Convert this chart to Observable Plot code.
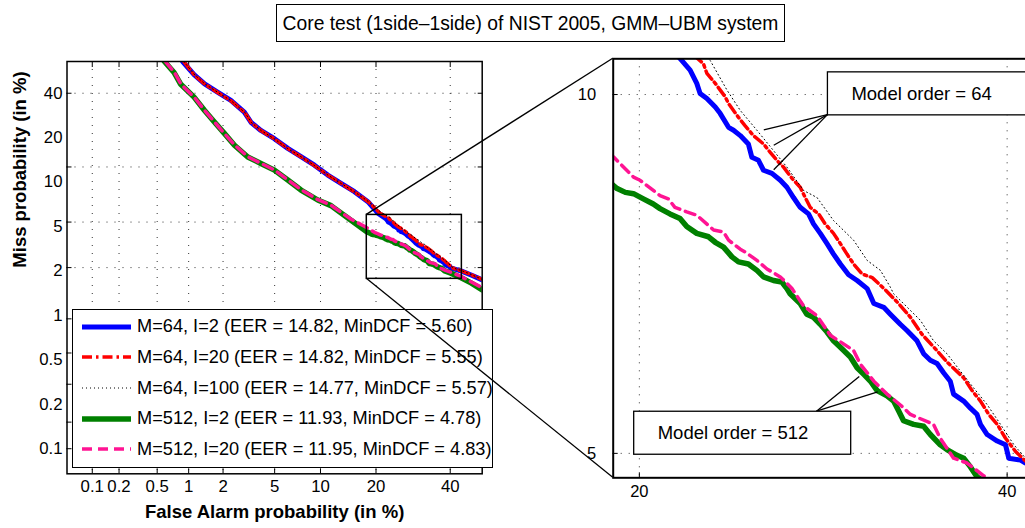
<!DOCTYPE html>
<html>
<head>
<meta charset="utf-8">
<script src="https://cdn.jsdelivr.net/npm/d3@7"></script>
<script src="https://cdn.jsdelivr.net/npm/@observablehq/plot@0.6"></script>
<style>
  html, body { margin: 0; padding: 0; background: #fff; overflow: hidden; }
  #fig { position: relative; width: 1025px; height: 528px; overflow: hidden;
         font-family: "Liberation Sans", Arial, Helvetica, sans-serif; color: #000; }
  #title { position: absolute; left: 276px; top: 4px; width: 507px; height: 36px;
           border: 1px solid #000; background: #fff; font-size: 19.3px; line-height: 37px;
           text-align: center; white-space: nowrap; }
  .panel { position: absolute; top: 0; }
  #legend { position: absolute; left: 72px; top: 309px; width: 419px; height: 157px;
            border: 1px solid #000; background: #fff; }
  .row { position: absolute; left: 0; height: 30px; display: flex; align-items: center;
         font-size: 18.2px; white-space: nowrap; }
  .row svg { margin-left: 9px; margin-right: 6px; }
</style>
</head>
<body>
<div id="fig">
  <div id="title">Core test (1side&#8211;1side) of NIST 2005, GMM&#8211;UBM system</div>
</div>
<script>
// ---------------------------------------------------------------------------
// DET curves, [false alarm %, miss %] pairs
// ---------------------------------------------------------------------------
const detM64I2 = [
  [0.88,50],[1.12,45.8],[1.39,42.9],[1.81,40.3],[2.32,37.8],[2.97,34.3],[3.34,31.4],[3.97,29.1],
  [4.98,26.9],[6.17,24.4],[7.55,22.4],[9.18,20.4],[11.05,18.25],[13.16,16.56],[15.57,14.94],
  [18.25,13.17],[20.43,11.31],[21.95,10.62],[22.35,10.44],[22.67,10.20],[22.83,10.02],[23.16,9.93],
  [23.57,9.78],[23.81,9.67],[24.23,9.43],[24.48,9.38],[24.82,9.29],[25.23,9.15],[25.41,8.93],
  [25.75,8.88],[26.01,8.72],[26.45,8.67],[26.89,8.56],[27.24,8.45],[27.59,8.29],[27.95,8.14],
  [28.40,8.04],[28.67,7.89],[29.04,7.75],[29.41,7.60],[29.77,7.45],[30.15,7.31],[30.61,7.16],
  [31.09,7.08],[31.66,6.97],[32.04,6.77],[32.61,6.72],[32.99,6.63],[33.57,6.50],[33.96,6.42],
  [34.55,6.29],[34.94,6.13],[35.34,6.05],[35.74,6.01],[36.13,5.90],[36.53,5.80],[36.73,5.65],
  [37.34,5.57],[37.75,5.49],[38.15,5.42],[38.36,5.31],[38.77,5.20],[39.39,5.13],[39.90,5.09],
  [40.10,4.95],[40.83,4.93],[41.14,4.90],[43.5,4.72],[46.5,4.42],[50,4.07]
];
const detM64I20 = [
  [0.90,50],[1.13,45.6],[1.40,42.8],[1.83,40.1],[2.34,37.6],[2.99,34.2],[3.36,31.3],[4.00,29.0],
  [5.00,26.8],[6.20,24.3],[7.58,22.3],[9.20,20.3],[11.08,18.2],[13.20,16.5],[15.60,14.9],
  [18.40,13.1],[20.90,11.3],[22.99,10.56],[23.16,10.38],[23.57,10.20],[24.06,9.96],[24.23,9.84],
  [24.73,9.60],[25.06,9.46],[25.49,9.29],[26.01,9.15],[26.36,9.01],[26.71,8.88],[27.06,8.77],
  [27.51,8.59],[27.95,8.45],[28.22,8.29],[28.49,8.14],[28.95,8.04],[29.31,7.89],[29.77,7.75],
  [30.15,7.60],[30.52,7.45],[30.89,7.31],[31.37,7.17],[31.95,7.12],[32.71,6.95],[33.47,6.77],
  [34.16,6.59],[34.85,6.37],[35.64,6.19],[36.33,6.03],[37.34,5.84],[37.85,5.69],[38.36,5.57],
  [38.87,5.42],[39.39,5.31],[39.90,5.16],[40.52,5.02],[41.14,4.92],[43.5,4.74],[46.5,4.45],[50,4.10]
];
const detM64I100 = [
  [0.90,50],[1.14,45.7],[1.41,42.8],[1.84,40.1],[2.35,37.6],[3.00,34.2],[3.37,31.3],[4.01,29.0],
  [5.00,26.8],[6.20,24.3],[7.60,22.3],[9.20,20.3],[11.10,18.2],[13.20,16.5],[15.60,14.9],
  [18.50,13.1],[21.20,11.4],[23.32,10.62],[24.15,10.08],[24.82,9.72],[25.67,9.38],[26.53,9.04],
  [27.24,8.77],[28.13,8.40],[28.86,8.29],[29.77,7.94],[30.89,7.65],[31.66,7.36],[32.42,7.22],
  [32.99,6.99],[33.18,6.90],[34.75,6.55],[35.53,6.29],[36.33,6.13],[37.14,5.92],[37.95,5.72],
  [38.77,5.53],[39.59,5.31],[40.42,5.09],[41.14,4.95],[43.5,4.76],[46.5,4.46],[50,4.10]
];
const detM512I2 = [
  [0.59,50],[0.73,46.5],[0.84,42.9],[1.12,38.8],[1.39,34.8],[1.69,31.45],[2.05,28.3],[2.48,25.2],
  [3.16,22.3],[3.97,20.8],[4.98,19.3],[6.17,17.2],[7.55,15.25],[9.63,13.45],[11.54,12.5],
  [12.07,12.09],[14.93,10.25],[18.02,8.70],[18.85,8.48],[19.02,8.43],[19.38,8.37],[19.74,8.35],
  [20.18,8.27],[20.63,8.19],[20.94,8.12],[21.40,8.04],[21.87,7.97],[22.19,7.85],[22.67,7.75],
  [23.24,7.70],[23.57,7.62],[23.98,7.55],[24.40,7.41],[24.73,7.34],[25.23,7.31],[25.67,7.22],
  [26.01,7.13],[26.53,7.08],[26.97,7.06],[27.24,6.97],[27.41,6.90],[27.95,6.77],[28.31,6.63],
  [28.67,6.59],[29.04,6.50],[29.41,6.40],[29.77,6.29],[30.15,6.21],[30.71,6.09],[31.09,5.96],
  [31.47,5.88],[31.85,5.80],[32.23,5.69],[32.80,5.63],[33.18,5.57],[33.47,5.46],[33.76,5.35],
  [34.35,5.31],[34.94,5.29],[35.34,5.20],[35.93,5.09],[36.33,5.04],[36.93,4.98],[37.34,4.95],
  [37.75,4.86],[38.15,4.76],[40.0,4.58],[43.4,4.22],[46.6,3.85],[50,3.42]
];
const detM512I20 = [
  [0.60,50],[0.74,46.4],[0.85,42.8],[1.13,38.7],[1.40,34.7],[1.70,31.4],[2.06,28.2],[2.50,25.2],
  [3.18,22.3],[4.00,20.8],[5.00,19.3],[6.20,17.2],[7.58,15.3],[9.66,13.5],[11.56,12.55],
  [12.10,12.15],[14.95,10.4],[17.60,9.4],[18.88,8.93],[19.09,8.85],[19.74,8.61],[20.03,8.56],
  [20.94,8.32],[21.32,8.27],[21.63,8.14],[22.19,8.07],[22.67,8.02],[23.49,7.80],[23.98,7.77],
  [24.23,7.65],[24.82,7.52],[25.06,7.48],[25.67,7.36],[26.19,7.24],[26.89,7.13],[27.24,7.04],
  [27.51,6.97],[28.13,6.74],[28.86,6.61],[29.59,6.36],[30.89,6.17],[31.28,6.00],[32.04,5.80],
  [32.80,5.65],[33.67,5.51],[34.16,5.42],[35.53,5.31],[35.93,5.16],[36.73,4.95],[37.54,4.90],
  [38.56,4.77],[40.2,4.62],[43.4,4.30],[46.6,3.92],[50,3.55]
];

// Legend entries
const systemNames = ["M=64, I=2", "M=64, I=20", "M=64, I=100", "M=512, I=2", "M=512, I=20"];
const eerValues = [14.82, 14.82, 14.77, 11.93, 11.95];
const minDcfValues = [5.60, 5.55, 5.57, 4.78, 4.83];
const detCurves = [detM64I2, detM64I20, detM64I100, detM512I2, detM512I20];

// Axis ticks (in %)
const mainTicks = [0.1, 0.2, 0.5, 1, 2, 5, 10, 20, 40];
const mainRange = [0.05, 50];
const zoomFA = [18.02, 43.6];      // region outlined on the main plot
const zoomMiss = [4.14, 11.04];
const insetFA = [18.85, 43.6];     // domain of the magnified plot
const insetMiss = [4.75, 10.65];
const insetFATicks = [20, 40];
const insetMissTicks = [5, 10];

// Callouts on the magnified plot: box corner, leader start, leader targets (%)
const calloutLabels = ["Model order = 64", "Model order = 512"];
const calloutBoxes = [[29.46, 10.40], [19.77, 5.45]];
const calloutFrom = [[29.46, 9.64], [28.86, 5.45]];
const calloutTargets = [
  [[26.05, 9.38], [26.57, 9.12], [26.57, 8.72]],
  [[31.24, 5.85], [32.29, 5.67]]
];

// ---------------------------------------------------------------------------
// Line styles
// ---------------------------------------------------------------------------
const lineStyles = [
  {stroke: "#0000ff", strokeWidth: 5, strokeDasharray: null},
  {stroke: "#ff0000", strokeWidth: 3.5, strokeDasharray: "10,4,2.5,4"},
  {stroke: "#000000", strokeWidth: 1, strokeDasharray: "1,3"},
  {stroke: "#008000", strokeWidth: 5.5, strokeDasharray: null},
  {stroke: "#ff1493", strokeWidth: 3.5, strokeDasharray: "10,6"}
];

// Normal deviate (inverse standard normal CDF), Acklam's approximation
function probit(p) {
  const a = [-3.969683028665376e+01, 2.209460984245205e+02, -2.759285104469687e+02,
             1.383577518672690e+02, -3.066479806614716e+01, 2.506628277459239e+00];
  const b = [-5.447609879822406e+01, 1.615858368580409e+02, -1.556989798598866e+02,
             6.680131188771972e+01, -1.328068155288572e+01];
  const c = [-7.784894002430293e-03, -3.223964580411365e-01, -2.400758277161838e+00,
             -2.549671010029437e+00, 4.374664141464968e+00, 2.938163982698783e+00];
  const d = [7.784695709041462e-03, 3.224671290700398e-01, 2.445134137142996e+00,
             3.754408661907416e+00];
  const pl = 0.02425;
  if (p < pl) {
    const q = Math.sqrt(-2 * Math.log(p));
    return (((((c[0]*q+c[1])*q+c[2])*q+c[3])*q+c[4])*q+c[5]) / ((((d[0]*q+d[1])*q+d[2])*q+d[3])*q+1);
  }
  if (p <= 1 - pl) {
    const q = p - 0.5, r = q * q;
    return (((((a[0]*r+a[1])*r+a[2])*r+a[3])*r+a[4])*r+a[5])*q / (((((b[0]*r+b[1])*r+b[2])*r+b[3])*r+b[4])*r+1);
  }
  const q = Math.sqrt(-2 * Math.log(1 - p));
  return -(((((c[0]*q+c[1])*q+c[2])*q+c[3])*q+c[4])*q+c[5]) / ((((d[0]*q+d[1])*q+d[2])*q+d[3])*q+1);
}
const z = v => probit(v / 100);
const fmt = v => String(v);

const font = "Liberation Sans, Arial, Helvetica, sans-serif";
const grid = {stroke: "#333", strokeWidth: 1, strokeDasharray: "1,7"};
const tickMark = {tickSize: -5, tickFormat: () => "", label: null, strokeWidth: 1};

function curveMarks() {
  return detCurves.map((pts, i) => Plot.line(pts, {
    x: d => z(d[0]), y: d => z(d[1]), clip: true, ...lineStyles[i]
  }));
}

// ---------------------------------------------------------------------------
// Main DET plot
// ---------------------------------------------------------------------------
const yLabelOrder = [...mainTicks].reverse();
const main = Plot.plot({
  width: 500, height: 528,
  marginLeft: 66.5, marginRight: 18.3, marginTop: 61, marginBottom: 54.7,
  x: {domain: mainRange.map(z), axis: null},
  y: {domain: mainRange.map(z), axis: null},
  style: {fontFamily: font, background: "transparent", color: "black", overflow: "visible"},
  marks: [
    Plot.ruleX(mainTicks, {x: z, ...grid}),
    Plot.ruleY(mainTicks, {y: z, ...grid}),
    Plot.axisX(mainTicks.map(z), {anchor: "bottom", ...tickMark}),
    Plot.axisX(mainTicks.map(z), {anchor: "top", ...tickMark}),
    Plot.axisY(mainTicks.map(z), {anchor: "left", ...tickMark}),
    Plot.axisY(mainTicks.map(z), {anchor: "right", ...tickMark}),
    ...curveMarks(),
    Plot.rect([0], {x1: () => z(zoomFA[0]), x2: () => z(zoomFA[1]),
                    y1: () => z(zoomMiss[0]), y2: () => z(zoomMiss[1]),
                    fill: "none", stroke: "black", strokeWidth: 1.5}),
    Plot.frame({stroke: "black", strokeWidth: 1.5}),
    Plot.text(mainTicks, {x: z, text: fmt, frameAnchor: "bottom", dy: 18.4, fontSize: 16.8}),
    // the miss-probability labels are spread evenly between the 40% and 0.1% ticks
    Plot.text(yLabelOrder, {
      y: (d, i) => z(yLabelOrder[0]) + i * (z(yLabelOrder[yLabelOrder.length - 1]) - z(yLabelOrder[0])) / (yLabelOrder.length - 1),
      text: fmt, frameAnchor: "left", textAnchor: "end", dx: -4.5, fontSize: 16.8
    }),
    Plot.text(["False Alarm probability (in %)"], {frameAnchor: "bottom", dy: 44.4, fontSize: 18.5, fontWeight: "bold"}),
    Plot.text(["Miss probability (in %)"], {frameAnchor: "left", dx: -46.5, rotate: -90, fontSize: 18.5, fontWeight: "bold"})
  ]
});

// ---------------------------------------------------------------------------
// Magnified plot
// ---------------------------------------------------------------------------
const insetLeft = 560;
const inset = Plot.plot({
  width: 520, height: 528,
  marginLeft: 52.7, marginRight: 15.7, marginTop: 58.3, marginBottom: 50.7,
  x: {domain: insetFA.map(z), axis: null},
  y: {domain: insetMiss.map(z), axis: null},
  style: {fontFamily: font, background: "transparent", color: "black", overflow: "visible"},
  marks: [
    Plot.ruleX(insetFATicks, {x: z, ...grid}),
    Plot.ruleY(insetMissTicks, {y: z, ...grid}),
    Plot.axisX(insetFATicks.map(z), {anchor: "bottom", ...tickMark}),
    Plot.axisY(insetMissTicks.map(z), {anchor: "left", ...tickMark}),
    ...curveMarks(),
    Plot.frame({stroke: "black", strokeWidth: 2}),
    Plot.text(insetFATicks, {x: z, text: fmt, frameAnchor: "bottom", dy: 19.4, fontSize: 16.5}),
    Plot.text(insetMissTicks, {y: z, text: fmt, frameAnchor: "left", textAnchor: "end", dx: -17, fontSize: 16.5})
  ]
});

const fig = document.getElementById("fig");
main.classList.add("panel");
main.style.left = "0px";
inset.classList.add("panel");
inset.style.left = insetLeft + "px";
fig.appendChild(main);
fig.appendChild(inset);

// ---------------------------------------------------------------------------
// Legend
// ---------------------------------------------------------------------------
const legend = document.createElement("div");
legend.id = "legend";
systemNames.forEach((name, i) => {
  const row = document.createElement("div");
  row.className = "row";
  row.style.top = (1.7 + i * 30.65) + "px";
  const sw = d3.create("svg").attr("width", 49).attr("height", 10);
  sw.append("line").attr("x1", 0).attr("x2", 49).attr("y1", 5).attr("y2", 5)
    .attr("stroke", lineStyles[i].stroke).attr("stroke-width", lineStyles[i].strokeWidth)
    .attr("stroke-dasharray", lineStyles[i].strokeDasharray);
  row.appendChild(sw.node());
  const label = document.createElement("span");
  label.textContent = `${name} (EER = ${eerValues[i].toFixed(2)}, MinDCF = ${minDcfValues[i].toFixed(2)})`;
  row.appendChild(label);
  legend.appendChild(row);
});
fig.appendChild(legend);

// ---------------------------------------------------------------------------
// Zoom connectors and callouts, positioned with the plots' scales
// ---------------------------------------------------------------------------
const toLinear = s => d3.scaleLinear(s.domain, s.range);
const mx = toLinear(main.scale("x")), my = toLinear(main.scale("y"));
const ixs = toLinear(inset.scale("x")), iys = toLinear(inset.scale("y"));
const ix = v => insetLeft + ixs(z(v));
const iy = v => iys(z(v));

const overlay = d3.select(fig).append("svg")
  .attr("width", 1025).attr("height", 528)
  .style("position", "absolute").style("left", "0px").style("top", "0px")
  .style("pointer-events", "none").style("font-family", font);

const connectors = [
  [[mx(z(zoomFA[0])), my(z(zoomMiss[1]))], [ix(insetFA[0]), iy(insetMiss[1])]],
  [[mx(z(zoomFA[0])), my(z(zoomMiss[0]))], [ix(insetFA[0]), iy(insetMiss[0])]]
];
overlay.selectAll("line.connector").data(connectors).join("line")
  .attr("class", "connector")
  .attr("x1", d => d[0][0]).attr("y1", d => d[0][1])
  .attr("x2", d => d[1][0]).attr("y2", d => d[1][1])
  .attr("stroke", "black").attr("stroke-width", 1.3);

const boxW = 217, boxH = 43;
calloutLabels.forEach((label, i) => {
  const [fx, fy] = calloutFrom[i];
  calloutTargets[i].forEach(([tx, ty]) => {
    overlay.append("line")
      .attr("x1", ix(fx)).attr("y1", iy(fy)).attr("x2", ix(tx)).attr("y2", iy(ty))
      .attr("stroke", "black").attr("stroke-width", 1.3);
  });
  const bx = ix(calloutBoxes[i][0]), by = iy(calloutBoxes[i][1]);
  overlay.append("rect").attr("x", bx).attr("y", by).attr("width", boxW).attr("height", boxH)
    .attr("fill", "white").attr("stroke", "black").attr("stroke-width", 1.3);
  overlay.append("text").attr("x", bx + 24).attr("y", by + boxH / 2)
    .attr("dy", "0.35em").attr("font-size", 18.5).text(label);
});
</script>
</body>
</html>
